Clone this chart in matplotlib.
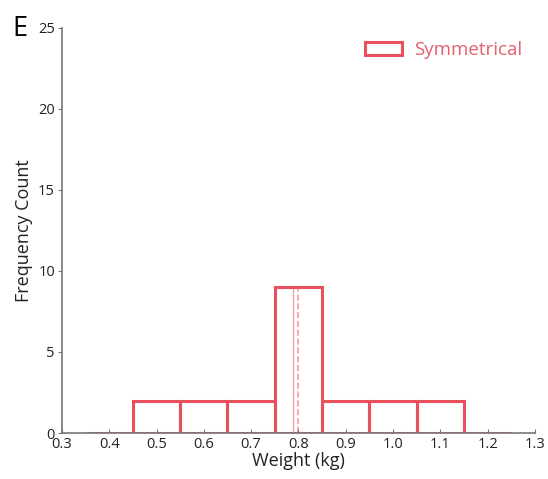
import numpy as np
import matplotlib.pyplot as plt

plt.rcParams['font.family'] = ['Open Sans', 'DejaVu Sans']

# datos
bin_left = [0.35, 0.45, 0.55, 0.65, 0.75, 0.85, 0.95, 1.05, 1.15]
counts = [0, 2, 2, 2, 9, 2, 2, 2, 0]
mean_w = 0.788
median_w = 0.799
xticks = [0.3, 0.4, 0.5, 0.6, 0.7, 0.8, 0.9, 1.0, 1.1, 1.2, 1.3]
yticks = [0, 5, 10, 15, 20, 25]

red = '#e8505b'

fig = plt.figure(figsize=(5.48, 4.79), dpi=100)
ax = fig.add_axes([0.113, 0.096, 0.863, 0.846])

ax.bar(bin_left, counts, width=0.1, align='edge', fill=False,
       edgecolor=red, linewidth=2.2, label='Symmetrical')
ax.vlines(mean_w, 0, 9, colors=red, linewidth=1, alpha=0.55)
ax.vlines(median_w, 0, 9, colors=red, linewidth=1.2, linestyles='--', alpha=0.55)

ax.set_xlim(0.3, 1.3)
ax.set_ylim(0, 25)
ax.set_xticks(xticks)
ax.set_yticks(yticks)
ax.set_xticklabels(['%.1f' % v for v in xticks])

for s in ['top', 'right']:
    ax.spines[s].set_visible(False)
for s in ['left', 'bottom']:
    ax.spines[s].set_color('#777777')
    ax.spines[s].set_linewidth(1.2)
ax.tick_params(axis='both', labelsize=10.5, colors='#777777', labelcolor='#222222',
               length=3, pad=1)
ax.tick_params(axis='x', direction='in', pad=3)
ax.tick_params(axis='y', pad=2)

ax.set_xlabel('Weight (kg)', fontsize=13, color='#222222', labelpad=0)
ax.set_ylabel('Frequency Count', fontsize=13, color='#222222', labelpad=4)

leg = ax.legend(loc='upper right', frameon=False, fontsize=13.5,
                handlelength=2.0, handleheight=0.7, borderaxespad=0.3,
                handletextpad=0.6)
for t in leg.get_texts():
    t.set_color('#e0606e')

fig.text(0.022, 0.925, 'E', fontsize=19.5, color='black')

fig.savefig('out.png', dpi=100)
